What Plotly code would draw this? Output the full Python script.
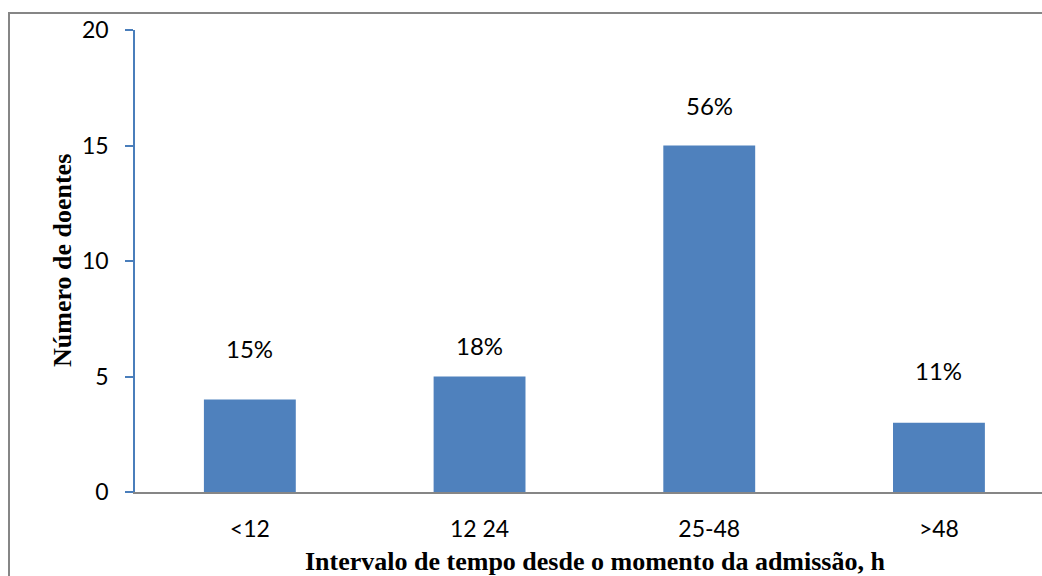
import plotly.graph_objects as go

categories = ["<12", "12 24", "25-48", ">48"]
values = [4, 5, 15, 3]
pct_labels = ["15%", "18%", "56%", "11%"]
label_shift_px = [51, 31, 40, 52]  # vertical pixel offset of labels above bars
y_ticks = [0, 5, 10, 15, 20]

W, H = 1042, 576
ML, MR, MT, MB = 135, 0, 30, 84
plot_w = W - ML - MR
plot_h = H - MT - MB

fig = go.Figure()
fig.add_trace(go.Bar(
    x=list(range(len(categories))),
    y=values,
    marker=dict(color="#4F81BD", line=dict(width=0)),
    width=0.4,
    hoverinfo="skip",
))

for i, (v, lab, sh) in enumerate(zip(values, pct_labels, label_shift_px)):
    fig.add_annotation(x=i, y=v, text=lab, showarrow=False, xref="x", yref="y",
                       yanchor="middle", yshift=sh,
                       font=dict(family="Lato", size=24, color="black"))

tick_font = dict(family="Lato", size=23, color="black")
fig.update_layout(
    width=W, height=H,
    margin=dict(l=ML, r=MR, t=MT, b=MB, pad=0),
    paper_bgcolor="white", plot_bgcolor="white",
    showlegend=False,
    xaxis=dict(
        range=[-0.5, -0.5 + plot_w / 229.7],
        tickmode="array", tickvals=list(range(len(categories))), ticktext=categories,
        showgrid=False, zeroline=False, showline=True, linecolor="#868686", linewidth=1.5,
        ticks="", tickfont=tick_font, ticklabelstandoff=16,
    ),
    yaxis=dict(
        range=[0, 20], tickmode="array", tickvals=y_ticks,
        showgrid=False, zeroline=False, showline=True, linecolor="#4A7EBB", linewidth=1.5,
        ticks="outside", ticklen=8, tickcolor="#4A7EBB", tickwidth=1.5,
        tickfont=tick_font, ticklabelstandoff=12,
    ),
)

# axis titles
fig.add_annotation(text="Intervalo de tempo desde o momento da admissão, h",
                   xref="paper", yref="paper",
                   x=(594.5 - ML) / plot_w, y=-(561 - (MT + plot_h)) / plot_h,
                   xanchor="center", yanchor="middle", showarrow=False,
                   font=dict(family="Liberation Serif", size=26, color="black", weight="bold"))
fig.add_annotation(text="Número de doentes",
                   xref="paper", yref="paper",
                   x=(62 - ML) / plot_w, y=0.5, textangle=-90,
                   xanchor="center", yanchor="middle", showarrow=False,
                   font=dict(family="Liberation Serif", size=26, color="black", weight="bold"))

# outer chart border (cropped at right and bottom)
fig.add_shape(type="rect", xref="paper", yref="paper",
              x0=(9 - ML) / plot_w, x1=1.2,
              y0=-0.4, y1=1 + (MT - 13) / plot_h,
              line=dict(color="#868686", width=2), fillcolor="rgba(0,0,0,0)", layer="below")

fig.write_html("out.html")
